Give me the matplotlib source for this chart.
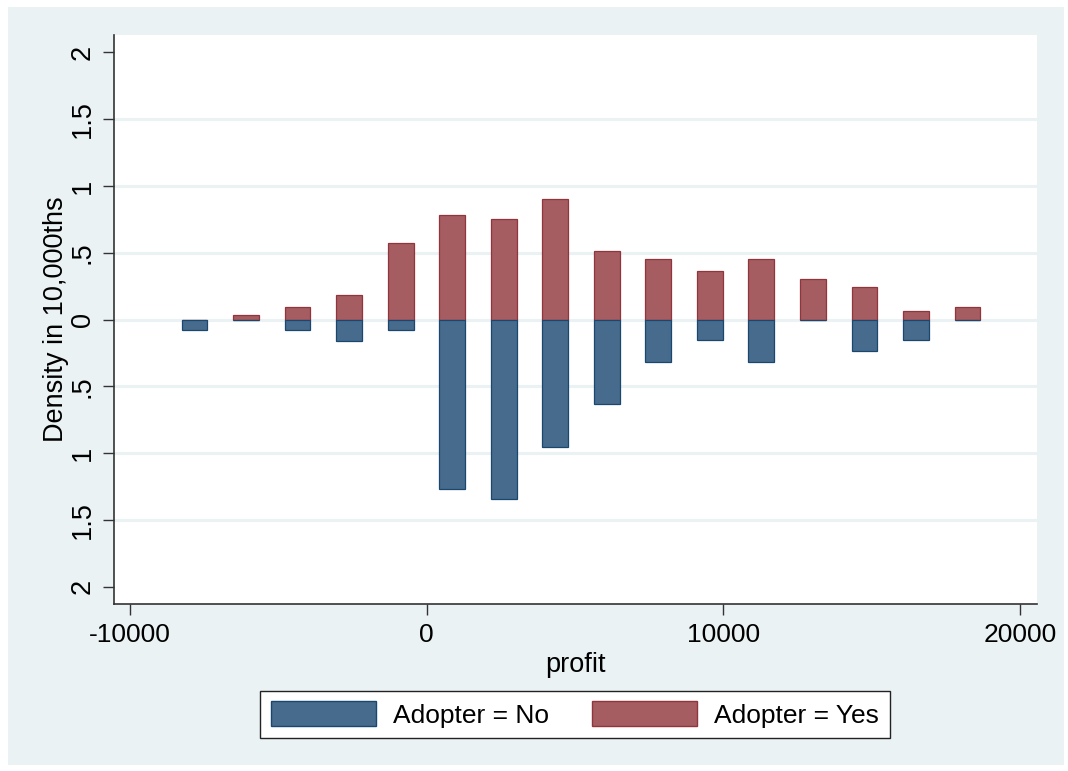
import numpy as np
import matplotlib
matplotlib.use('Agg')
import matplotlib.pyplot as plt
from matplotlib.patches import Patch, Rectangle


# bin centers of profit and densities (in 10,000ths)
centers = [-7825, -6088, -4351, -2614, -877, 860, 2597, 4334,
           6071, 7808, 9545, 11282, 13019, 14756, 16493, 18230]
dens_no = [0.077, 0.0, 0.077, 0.16, 0.077, 1.27, 1.345, 0.953,
           0.63, 0.32, 0.155, 0.32, 0.0, 0.237, 0.155, 0.0]
dens_yes = [0.0, 0.032, 0.092, 0.18, 0.57, 0.78, 0.75, 0.90,
            0.516, 0.45, 0.36, 0.45, 0.305, 0.24, 0.065, 0.095]
bar_width = 868

ytick_vals = [-2, -1.5, -1, -0.5, 0, 0.5, 1, 1.5, 2]
ytick_labels = ['2', '1.5', '1', '.5', '0', '.5', '1', '1.5', '2']
xtick_vals = [-10000, 0, 10000, 20000]

navy = '#1A476F'
navy_fill = '#476B8C'
maroon = '#90353B'
maroon_fill = '#A65D62'
bg = '#EAF2F3'


def plot_hist():
    plt.rcParams['font.family'] = ['Liberation Sans', 'DejaVu Sans']
    plt.rcParams['font.size'] = 19
    W, H = 1068, 771
    fig = plt.figure(figsize=(W / 100, H / 100), dpi=100, facecolor='white')
    # graph region background
    fig.patches.append(Rectangle((8 / W, 1 - 765 / H), (1064 - 8) / W, (765 - 7) / H,
                                 transform=fig.transFigure, facecolor=bg,
                                 edgecolor='none', zorder=-10))
    ax = fig.add_axes([114 / W, 1 - 604 / H, (1037 - 114) / W, (604 - 35) / H])
    ax.set_zorder(1)
    ax.set_facecolor('white')

    for y in ytick_vals[1:-1]:
        ax.axhline(y, color=bg, lw=2.2, zorder=0)

    ax.bar(centers, dens_yes, width=bar_width, color=maroon_fill,
           edgecolor=maroon, linewidth=0.9, zorder=2)
    ax.bar(centers, [-v for v in dens_no], width=bar_width, color=navy_fill,
           edgecolor=navy, linewidth=0.9, zorder=2)

    ax.set_xlim(-10540, 20573)
    ax.set_ylim(-2.13, 2.13)
    ax.set_yticks(ytick_vals)
    ax.set_yticklabels(ytick_labels, rotation=90, va='center', fontsize=19.5)
    ax.set_xticks(xtick_vals)
    ax.set_xticklabels([str(v) for v in xtick_vals])
    ax.tick_params(axis='both', length=8, width=1, color='#333333')
    ax.tick_params(axis='y', pad=5)
    ax.tick_params(axis='x', pad=6)

    for s in ['top', 'right']:
        ax.spines[s].set_visible(False)
    for s in ['left', 'bottom']:
        ax.spines[s].set_color('#333333')
        ax.spines[s].set_linewidth(1.2)

    ax.set_xlabel('profit', labelpad=3, fontsize=19.5)
    ax.set_ylabel('Density in 10,000ths', labelpad=1, fontsize=19.5)

    handles = [Patch(facecolor=navy_fill, edgecolor=navy, label='Adopter = No'),
               Patch(facecolor=maroon_fill, edgecolor=maroon, label='Adopter = Yes')]
    leg = fig.legend(handles=handles, loc='center', ncol=2,
                     bbox_to_anchor=(575 / W, 1 - 714.5 / H),
                     frameon=True, fancybox=False, edgecolor='#222222',
                     facecolor='white', framealpha=1, fontsize=19,
                     handlelength=4.0, handleheight=1.05, handletextpad=0.65,
                     columnspacing=1.6, borderpad=0.4, borderaxespad=0)
    leg.get_frame().set_linewidth(1.0)

    fig.savefig('out.png', dpi=100, facecolor='white')
    plt.close()


def main():
    plot_hist()


if __name__ == '__main__':
    main()
